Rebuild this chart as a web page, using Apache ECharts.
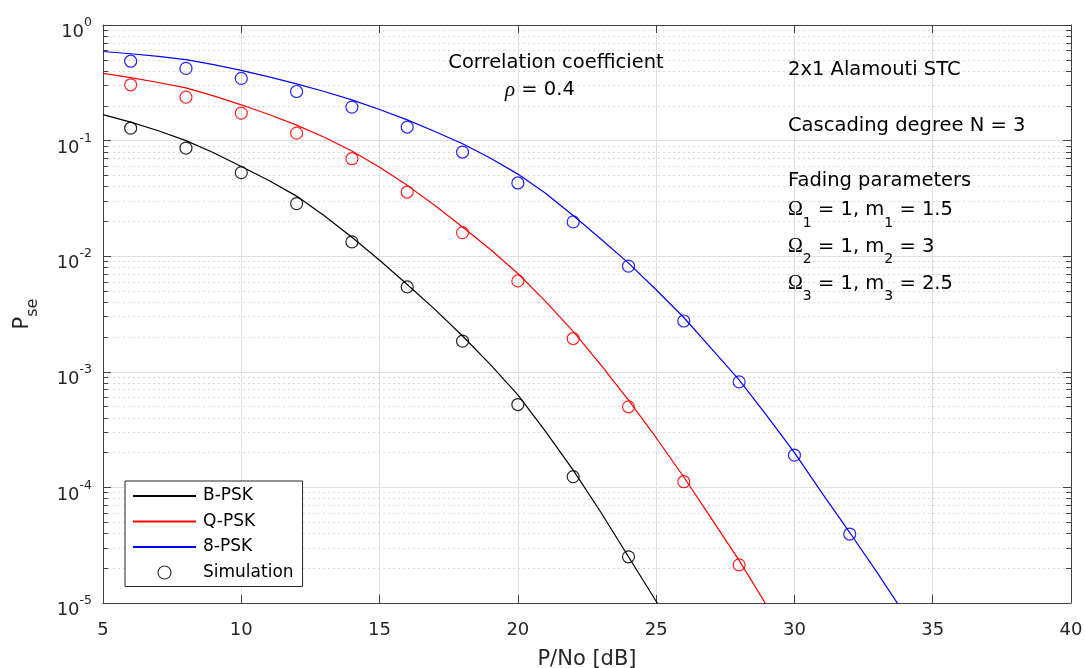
<!DOCTYPE html>
<html>
<head>
<meta charset="utf-8">
<script src="https://cdn.jsdelivr.net/npm/echarts@6/dist/echarts.min.js"></script>
<style>
html,body{margin:0;padding:0;background:#fff;}
#c{width:1085px;height:668px;}
</style>
</head>
<body>
<div id="c"></div>
<script>
// ---- data ----
const snr = [5,6,7,8,9,10,11,12,13,14,15,16,17,18,19,20,21,22,23,24,25,26,27,28,29,30,31,32,33,34];
const bpskTheory = [0.1675,0.1445,0.1216,0.1,0.0785,0.0596,0.0452,0.0331,0.0224,0.0146,0.00923,0.00569,0.00347,0.00204,0.00116,6.31e-4,3.05e-4,1.41e-4,6.10e-5,2.51e-5,1.035e-5,4.2e-6];
const qpskTheory = [0.381,0.350,0.318,0.286,0.244,0.204,0.168,0.136,0.107,0.0813,0.0589,0.0410,0.0275,0.0179,0.01148,0.00708,0.00407,0.00224,0.00115,5.69e-4,2.69e-4,1.23e-4,5.37e-5,2.34e-5,9.5e-6];
const epskTheory = [0.590,0.564,0.535,0.501,0.454,0.405,0.356,0.310,0.266,0.225,0.186,0.151,0.120,0.094,0.0708,0.0513,0.0351,0.0225,0.0141,0.00871,0.00513,0.00295,0.001585,8.51e-4,4.17e-4,2.0e-4,8.91e-5,4.07e-5,1.82e-5,7.9e-6];
const simSnr = [6,8,10,12,14,16,18,20,22,24,26,28,30,32];
const bpskSim = [0.128,0.0861,0.0528,0.0285,0.0133,0.00542,0.00184,5.21e-4,1.24e-4,2.51e-5];
const qpskSim = [0.304,0.238,0.173,0.116,0.0697,0.0359,0.0160,0.00611,0.00194,4.98e-4,1.12e-4,2.14e-5];
const epskSim = [0.486,0.421,0.345,0.266,0.195,0.131,0.0796,0.043,0.0198,0.0082,0.00275,8.18e-4,1.9e-4,3.95e-5];
const xTicks = [5,10,15,20,25,30,35,40];
const seriesNames = ['B-PSK','Q-PSK','8-PSK'];
const simName = 'Simulation';

// ---- styling ----
const FONT = 'DejaVu Sans';
const AX = '#404040';
const colors = ['#000000','#ff0000','#0000ff'];

const pair = (xs, ys) => ys.map((v, i) => [xs[i], v]);
const theory = [bpskTheory, qpskTheory, epskTheory];
const sims = [bpskSim, qpskSim, epskSim];

const series = [];
theory.forEach((arr, k) => {
  series.push({
    name: seriesNames[k], type: 'line', data: pair(snr, arr),
    symbol: 'none', showSymbol: false, smooth: false, clip: true,
    color: colors[k],
    lineStyle: {color: colors[k], width: 1.2},
    itemStyle: {color: colors[k], opacity: 0},
    z: 3, silent: true
  });
});
sims.forEach((arr, k) => {
  series.push({
    name: seriesNames[k] + ' sim', type: 'scatter', data: pair(simSnr, arr),
    symbol: 'circle', symbolSize: 12,
    itemStyle: {color: 'transparent', borderColor: colors[k], borderWidth: 1.2, opacity: 0.85},
    z: 4, silent: true
  });
});
series.push({
  name: simName, type: 'scatter', data: [], symbol: 'circle', symbolSize: 12,
  itemStyle: {color: 'transparent', borderColor: '#000', borderWidth: 1.2}
});

const yLabelFmt = v => {
  const e = Math.round(Math.log10(v));
  return '{b|10}{s|' + e + '}';
};

const option = {
  animation: false,
  backgroundColor: '#fff',
  textStyle: {fontFamily: FONT},
  grid: {left: 103, right: 14, top: 25, bottom: 65, containLabel: false, outerBoundsMode: 'none'},
  xAxis: [{
    type: 'value', min: xTicks[0], max: xTicks[xTicks.length - 1], interval: 5,
    position: 'bottom',
    name: 'P/No [dB]', nameLocation: 'middle', nameGap: 46,
    nameTextStyle: {fontSize: 21, color: '#262626', fontFamily: FONT},
    axisLine: {show: true, onZero: false, lineStyle: {color: AX, width: 1}},
    axisTick: {show: true, inside: true, length: 8, lineStyle: {color: AX}},
    axisLabel: {fontSize: 18, color: '#262626', margin: 18, fontFamily: FONT},
    splitLine: {show: true, lineStyle: {color: '#e0e0e0', width: 1}}
  }, {
    type: 'value', min: xTicks[0], max: xTicks[xTicks.length - 1], interval: 5,
    position: 'top',
    axisLine: {show: true, onZero: false, lineStyle: {color: AX, width: 1}},
    axisTick: {show: true, inside: true, length: 8, lineStyle: {color: AX}},
    axisLabel: {show: false}, splitLine: {show: false}
  }],
  yAxis: [{
    type: 'log', logBase: 10, min: 1e-5, max: 1, splitNumber: 5,
    position: 'left',
    name: '{p|P}{s|se}', nameLocation: 'middle', nameGap: 62, nameRotate: 90,
    nameTextStyle: {
      color: '#262626',
      rich: {
        p: {fontSize: 21, fontFamily: FONT, color: '#262626', verticalAlign: 'top'},
        s: {fontSize: 16, fontFamily: FONT, color: '#262626', verticalAlign: 'top', padding: [13, 0, 0, 0]}
      }
    },
    axisLine: {show: true, lineStyle: {color: AX, width: 1}},
    axisTick: {show: true, inside: true, length: 8, lineStyle: {color: AX}},
    minorTick: {show: true, splitNumber: 9, length: 5, lineStyle: {color: AX}},
    axisLabel: {
      margin: 11, formatter: yLabelFmt, padding: [8, 0, 0, 0],
      rich: {
        b: {fontSize: 18, fontFamily: FONT, color: '#262626', verticalAlign: 'top', padding: [7, 0, 0, 0]},
        s: {fontSize: 12.5, fontFamily: FONT, color: '#262626', verticalAlign: 'top'}
      }
    },
    splitLine: {show: true, lineStyle: {color: '#e0e0e0', width: 1}},
    minorSplitLine: {show: true, lineStyle: {color: '#d9d9d9', width: 1, type: [2, 3]}}
  }, {
    type: 'log', logBase: 10, min: 1e-5, max: 1, splitNumber: 5,
    position: 'right',
    axisLine: {show: true, lineStyle: {color: AX, width: 1}},
    axisTick: {show: true, inside: true, length: 8, lineStyle: {color: AX}},
    minorTick: {show: true, splitNumber: 9, length: 5, lineStyle: {color: AX}},
    axisLabel: {show: false}, splitLine: {show: false}, minorSplitLine: {show: false}
  }],
  legend: {
    orient: 'vertical', left: 125, top: 481,
    padding: [5, 9, 4, 7],
    itemWidth: 63, itemHeight: 13, itemGap: 5.5,
    backgroundColor: '#fff', borderColor: '#262626', borderWidth: 1, borderRadius: 0,
    selectedMode: false, symbolKeepAspect: true,
    textStyle: {fontSize: 17, color: '#000', fontFamily: FONT, lineHeight: 20, padding: [0, 0, 0, 2]},
    data: [
      seriesNames[0], seriesNames[1], seriesNames[2],
      {name: simName, icon: 'circle', itemStyle: {color: 'transparent', borderColor: '#000', borderWidth: 1.2}}
    ],
    z: 10
  },
  graphic: [
    {type: 'text', x: 556, y: 62.5, z: 5,
     style: {text: 'Correlation coefficient', fontSize: 19.5, fontFamily: FONT, fill: '#000', align: 'center', verticalAlign: 'middle'}},
    {type: 'text', x: 505, y: 90, z: 5,
     style: {text: '{r|ρ}{t| = 0.4}', align: 'left', verticalAlign: 'middle',
       rich: {
         r: {fontSize: 21, fontFamily: 'Liberation Serif', fontStyle: 'italic', fill: '#000'},
         t: {fontSize: 19.5, fontFamily: FONT, fill: '#000'}
       }}},
    {type: 'text', x: 788, y: 70.3, z: 5,
     style: {text: '2x1 Alamouti STC', fontSize: 19.5, fontFamily: FONT, fill: '#000', align: 'left', verticalAlign: 'middle'}},
    {type: 'text', x: 788, y: 125.8, z: 5,
     style: {text: 'Cascading degree N = 3', fontSize: 19.5, fontFamily: FONT, fill: '#000', align: 'left', verticalAlign: 'middle'}},
    {type: 'text', x: 788, y: 180.5, z: 5,
     style: {text: 'Fading parameters', fontSize: 19.5, fontFamily: FONT, fill: '#000', align: 'left', verticalAlign: 'middle'}}
  ].concat([
    ['1', '1.5', 200],
    ['2', '3', 236.5],
    ['3', '2.5', 273.5]
  ].map(([i, m, top]) => ({
    type: 'text', x: 788, y: top, z: 5,
    style: {
      text: '{o|Ω}{s|' + i + '}{t| = 1, m}{s|' + i + '}{t| = ' + m + '}',
      align: 'left', verticalAlign: 'top',
      rich: {
        o: {fontSize: 20, fontFamily: 'Liberation Serif', fill: '#000', verticalAlign: 'top'},
        t: {fontSize: 19.5, fontFamily: FONT, fill: '#000', verticalAlign: 'top'},
        s: {fontSize: 14, fontFamily: FONT, fill: '#000', verticalAlign: 'top', padding: [16, 0, 0, 0]}
      }
    }
  }))),
  series: series
};

const chart = echarts.init(document.getElementById('c'), null, {renderer: 'canvas'});
chart.setOption(option);
</script>
</body>
</html>
